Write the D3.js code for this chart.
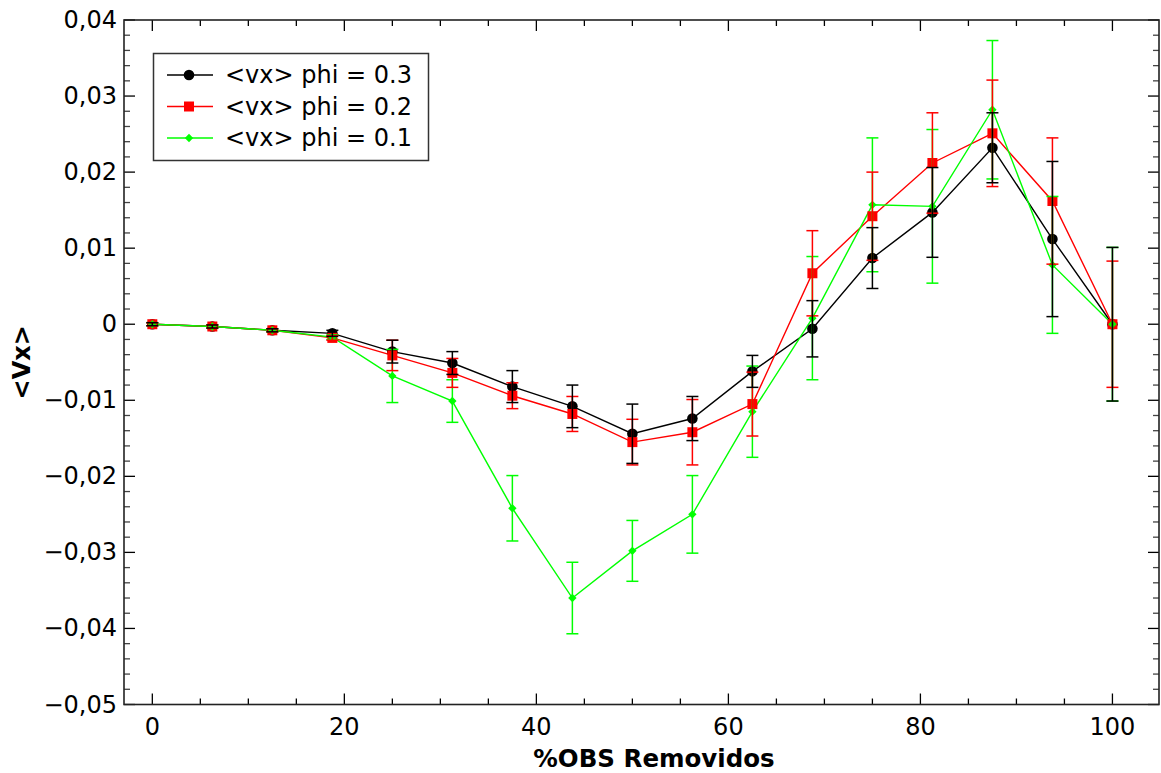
<!DOCTYPE html>
<html>
<head>
<meta charset="utf-8">
<script src="https://cdn.jsdelivr.net/npm/d3@7"></script>
<style>
  html, body { margin: 0; padding: 0; background: #fff; }
  svg { display: block; font-family: "DejaVu Sans", sans-serif; }
</style>
</head>
<body>
<svg id="chart" width="1161" height="773"></svg>
<script>
// ---------- data ----------
const xValues = [0, 6.25, 12.5, 18.75, 25, 31.25, 37.5, 43.75, 50, 56.25, 62.5, 68.75, 75, 81.25, 87.5, 93.75, 100];

const phi03 = [0, -0.0003, -0.0008, -0.0012, -0.0036, -0.0051, -0.0082, -0.0108, -0.0144, -0.0124, -0.0062, -0.0006, 0.0087, 0.0147, 0.0232, 0.0112, 0];
const phi03Err = [0.0002, 0.0002, 0.0002, 0.0004, 0.0015, 0.0015, 0.0021, 0.0028, 0.0039, 0.0029, 0.0021, 0.0037, 0.0040, 0.0059, 0.0046, 0.0102, 0.0101];

const phi02 = [0, -0.0003, -0.0008, -0.0018, -0.0041, -0.0064, -0.0094, -0.0118, -0.0155, -0.0142, -0.0105, 0.0067, 0.0142, 0.0212, 0.0251, 0.0162, 0];
const phi02Err = [0.0002, 0.0002, 0.0002, 0.0003, 0.0020, 0.0019, 0.0017, 0.0023, 0.0030, 0.0043, 0.0042, 0.0056, 0.0058, 0.0066, 0.0070, 0.0083, 0.0083];

const phi01 = [0, -0.0003, -0.0008, -0.0017, -0.0068, -0.0101, -0.0242, -0.0360, -0.0298, -0.0250, -0.0115, 0.0008, 0.0157, 0.0155, 0.0282, 0.0078, 0];
const phi01Err = [0.0002, 0.0002, 0.0002, 0.0003, 0.0035, 0.0028, 0.0043, 0.0047, 0.0040, 0.0051, 0.0060, 0.0081, 0.0088, 0.0101, 0.0091, 0.0090, 0.0101];

const seriesNames = ["<vx> phi = 0.3", "<vx> phi = 0.2", "<vx> phi = 0.1"];
const seriesColors = ["#000000", "#ff0000", "#00ff00"];
const seriesSymbols = ["circle", "square", "diamond"];

const xTickValues = [0, 20, 40, 60, 80, 100];
const yTickValues = [0.04, 0.03, 0.02, 0.01, 0, -0.01, -0.02, -0.03, -0.04, -0.05];
const xTitle = "%OBS Removidos";
const yTitle = "<Vx>";

// ---------- layout ----------
const L = 124, R = 1159, T = 20, B = 704.5;
const svg = d3.select("#chart");

const x = d3.scaleLinear().domain([-2.95, 104.85]).range([L, R]);
const y = d3.scaleLinear().domain([-0.05, 0.04]).range([B, T]);

const fmt = v => {
  if (Math.abs(v) < 1e-12) return "0";
  const s = Math.abs(v).toFixed(2).replace(".", ",");
  return (v < 0 ? "\u2212" : "") + s;
};

// ---------- ticks ----------
const axG = svg.append("g");
const xMinor = d3.range(0, 105, 5).filter(v => v % 20 !== 0);
const yMinor = d3.range(-0.05, 0.0401, 0.002).filter(v => Math.abs(Math.round(v * 100) - v * 100) > 1e-6);

// bottom & top ticks
[[B, -1], [T, 1]].forEach(([yy, dir]) => {
  axG.selectAll(null).data(xTickValues).enter().append("line")
    .attr("x1", d => x(d)).attr("x2", d => x(d))
    .attr("y1", yy).attr("y2", yy + dir * 11)
    .attr("stroke", "#000").attr("stroke-width", 1.3);
  axG.selectAll(null).data(xMinor).enter().append("line")
    .attr("x1", d => x(d)).attr("x2", d => x(d))
    .attr("y1", yy).attr("y2", yy + dir * 6)
    .attr("stroke", "#000").attr("stroke-width", 1.3);
});
// left & right ticks
[[L, 1], [R, -1]].forEach(([xx, dir]) => {
  axG.selectAll(null).data(yTickValues).enter().append("line")
    .attr("y1", d => y(d)).attr("y2", d => y(d))
    .attr("x1", xx).attr("x2", xx + dir * 11)
    .attr("stroke", "#000").attr("stroke-width", 1.3);
  axG.selectAll(null).data(yMinor).enter().append("line")
    .attr("y1", d => y(d)).attr("y2", d => y(d))
    .attr("x1", xx).attr("x2", xx + dir * 6)
    .attr("stroke", "#444").attr("stroke-width", 1.3);
});

// frame
svg.append("rect").attr("x", L).attr("y", T).attr("width", R - L).attr("height", B - T)
  .attr("fill", "none").attr("stroke", "#222").attr("stroke-width", 1.6);

// tick labels
svg.append("g").selectAll("text").data(yTickValues).enter().append("text")
  .attr("x", 117).attr("y", d => y(d))
  .attr("text-anchor", "end").attr("dominant-baseline", "central")
  .attr("font-size", 24).attr("fill", "#000")
  .text(fmt);
svg.append("g").selectAll("text").data(xTickValues).enter().append("text")
  .attr("x", d => x(d)).attr("y", 735)
  .attr("text-anchor", "middle")
  .attr("font-size", 24).attr("fill", "#000")
  .text(d => d);

// titles
svg.append("text").attr("x", 654).attr("y", 767)
  .attr("text-anchor", "middle").attr("font-size", 24.5).attr("font-weight", "bold")
  .text(xTitle);
svg.append("text").attr("transform", `translate(22,${(T + B) / 2}) rotate(-90)`)
  .attr("text-anchor", "middle").attr("dominant-baseline", "central")
  .attr("font-size", 24).attr("font-weight", "bold")
  .text(yTitle);

// ---------- series ----------
const series = [
  { vals: phi03, err: phi03Err },
  { vals: phi02, err: phi02Err },
  { vals: phi01, err: phi01Err }
].map((s, i) => ({
  name: seriesNames[i], color: seriesColors[i], symbol: seriesSymbols[i],
  pts: xValues.map((xv, j) => ({ x: xv, y: s.vals[j], e: s.err[j] }))
}));

const symGen = {
  circle: d3.symbol().type(d3.symbolCircle).size(Math.PI * 5.3 * 5.3),
  square: d3.symbol().type(d3.symbolSquare).size(10 * 10),
  diamond: d3.symbol().type(d3.symbolDiamond2).size(9 * 9 / 2 * 1.1)
};

const line = d3.line().x(d => x(d.x)).y(d => y(d.y));
const plot = svg.append("g");

// lines
series.forEach(s => {
  plot.append("path").datum(s.pts).attr("d", line)
    .attr("fill", "none").attr("stroke", s.color).attr("stroke-width", 1.4);
});
// markers
series.forEach(s => {
  plot.append("g").selectAll("path").data(s.pts).enter().append("path")
    .attr("d", symGen[s.symbol])
    .attr("transform", d => `translate(${x(d.x)},${y(d.y)})`)
    .attr("fill", s.color);
});
// error bars (drawn green, red, black)
series.slice().reverse().forEach(s => {
  const g = plot.append("g").attr("stroke", s.color).attr("stroke-width", 1.5);
  s.pts.forEach(d => {
    const cx = x(d.x), y1 = y(d.y + d.e), y2 = y(d.y - d.e);
    g.append("line").attr("x1", cx).attr("x2", cx).attr("y1", y1).attr("y2", y2);
    g.append("line").attr("x1", cx - 6).attr("x2", cx + 6).attr("y1", y1).attr("y2", y1);
    g.append("line").attr("x1", cx - 6).attr("x2", cx + 6).attr("y1", y2).attr("y2", y2);
  });
});

// ---------- legend ----------
const lg = svg.append("g");
lg.append("rect").attr("x", 153.5).attr("y", 53.5).attr("width", 275).attr("height", 107)
  .attr("fill", "#fff").attr("stroke", "#333").attr("stroke-width", 1.5);
series.forEach((s, i) => {
  const yy = 75 + i * 31.5;
  lg.append("line").attr("x1", 167).attr("x2", 213).attr("y1", yy).attr("y2", yy)
    .attr("stroke", s.color).attr("stroke-width", 1.4);
  lg.append("path").attr("d", symGen[s.symbol]).attr("transform", `translate(189,${yy})`)
    .attr("fill", s.color);
  lg.append("text").attr("x", 225).attr("y", yy).attr("dominant-baseline", "central")
    .attr("font-size", 24).attr("fill", "#000").text(s.name);
});
</script>
</body>
</html>
